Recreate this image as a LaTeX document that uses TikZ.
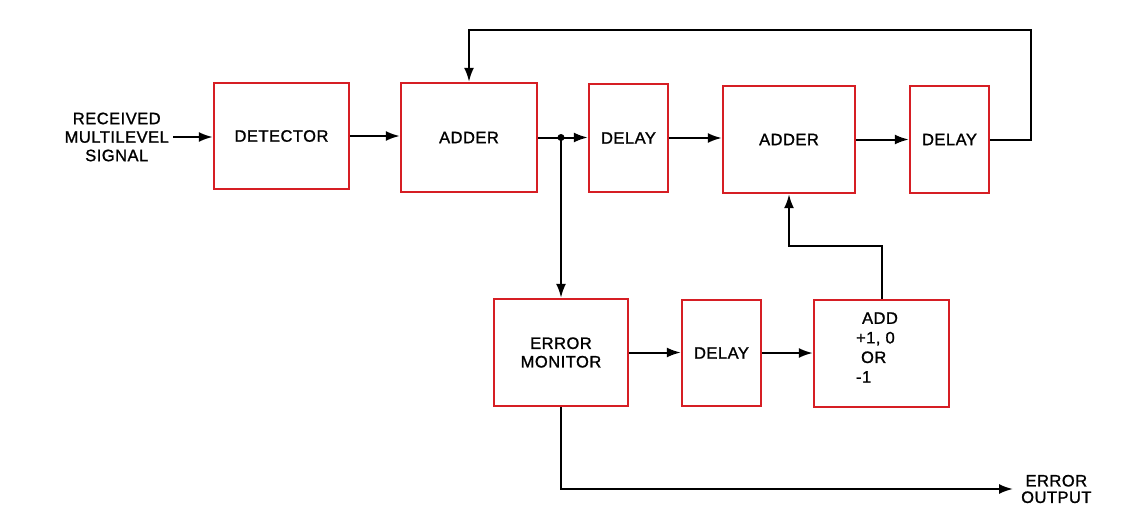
\documentclass[tikz,border=0pt]{standalone}
\usepackage{fontspec}
\setmainfont{Liberation Sans}[LetterSpace=3,FakeBold=1.2]
\usetikzlibrary{arrows.meta}
\definecolor{boxred}{RGB}{214,30,36}
\begin{document}
\begin{tikzpicture}[x=1pt,y=-1pt,
  blk/.style={draw=boxred,line width=2.4pt,inner sep=0pt,align=center,
    font=\fontsize{16.5}{18.5}\selectfont},
  lbl/.style={align=center,inner sep=0pt,font=\fontsize{16.5}{18.5}\selectfont},
  conn/.style={line width=2pt,draw=black},
  arr/.style={conn,-{Latex[length=14pt,width=10pt]}},
  jdot/.style={circle,fill=black,inner sep=0pt,minimum size=7pt}]
\fill[white] (0,0) rectangle (1139,524);
\useasboundingbox (0,0) rectangle (1139,524);

% blocks
\node[blk,minimum width=135pt,minimum height=106pt] (det)  at (281.5,136)   {DETECTOR};
\node[blk,minimum width=136pt,minimum height=109pt] (add1) at (469,137.5)   {ADDER};
\node[blk,minimum width=79pt, minimum height=108pt] (del1) at (628.5,138)   {DELAY};
\node[blk,minimum width=132pt,minimum height=107pt] (add2) at (789,139.5)   {ADDER};
\node[blk,minimum width=79pt, minimum height=107pt] (del2) at (949.5,139.5) {DELAY};
\node[blk,minimum width=134pt,minimum height=107pt] (em)   at (561,352.5)   {ERROR\\MONITOR};
\node[blk,minimum width=79pt, minimum height=106pt] (del3) at (721.5,353)   {DELAY};
\node[blk,minimum width=135pt,minimum height=107pt] (addb) at (881.5,353.5) {};
\node[lbl,align=left,font=\fontsize{16.5}{19.6}\selectfont] (addtxt) at (877,347.5)
  {\hspace*{6pt}ADD\\+1, 0\\\hspace*{5pt}OR\\-1};

% texts
\node[lbl,anchor=east,inner xsep=4pt] (inlbl) at (173,137) {RECEIVED\\MULTILEVEL\\SIGNAL};
\node[lbl,anchor=west,inner xsep=8pt,font=\fontsize{16.5}{16.5}\selectfont] (outlbl) at (1013,489)
  {ERROR\\OUTPUT};

% junction
\coordinate (jn) at (561,137.5);

% connectors
\draw[arr] (inlbl.east) -- (inlbl.east -| det.west);
\draw[arr] (det.east) -- (det.east -| add1.west);
\draw[conn] (add1.east) -- (jn);
\draw[arr] (jn) -- (jn -| del1.west);
\draw[arr] (del1.east) -- (del1.east -| add2.west);
\draw[arr] (add2.east) -- (add2.east -| del2.west);
\draw[arr] (del2.east) -- ++(41,0) -- ++(0,-109) -| (add1.north);
\draw[arr] (jn) -- (jn |- em.north);
\draw[arr] (em.east) -- (em.east -| del3.west);
\draw[arr] (del3.east) -- (del3.east -| addb.west);
\draw[arr] (addb.north) -- ++(0,-53) -| (add2.south);
\draw[arr] (em.south) |- (outlbl.west);
\node[jdot] (jdt) at (jn) {};
\end{tikzpicture}
\end{document}
